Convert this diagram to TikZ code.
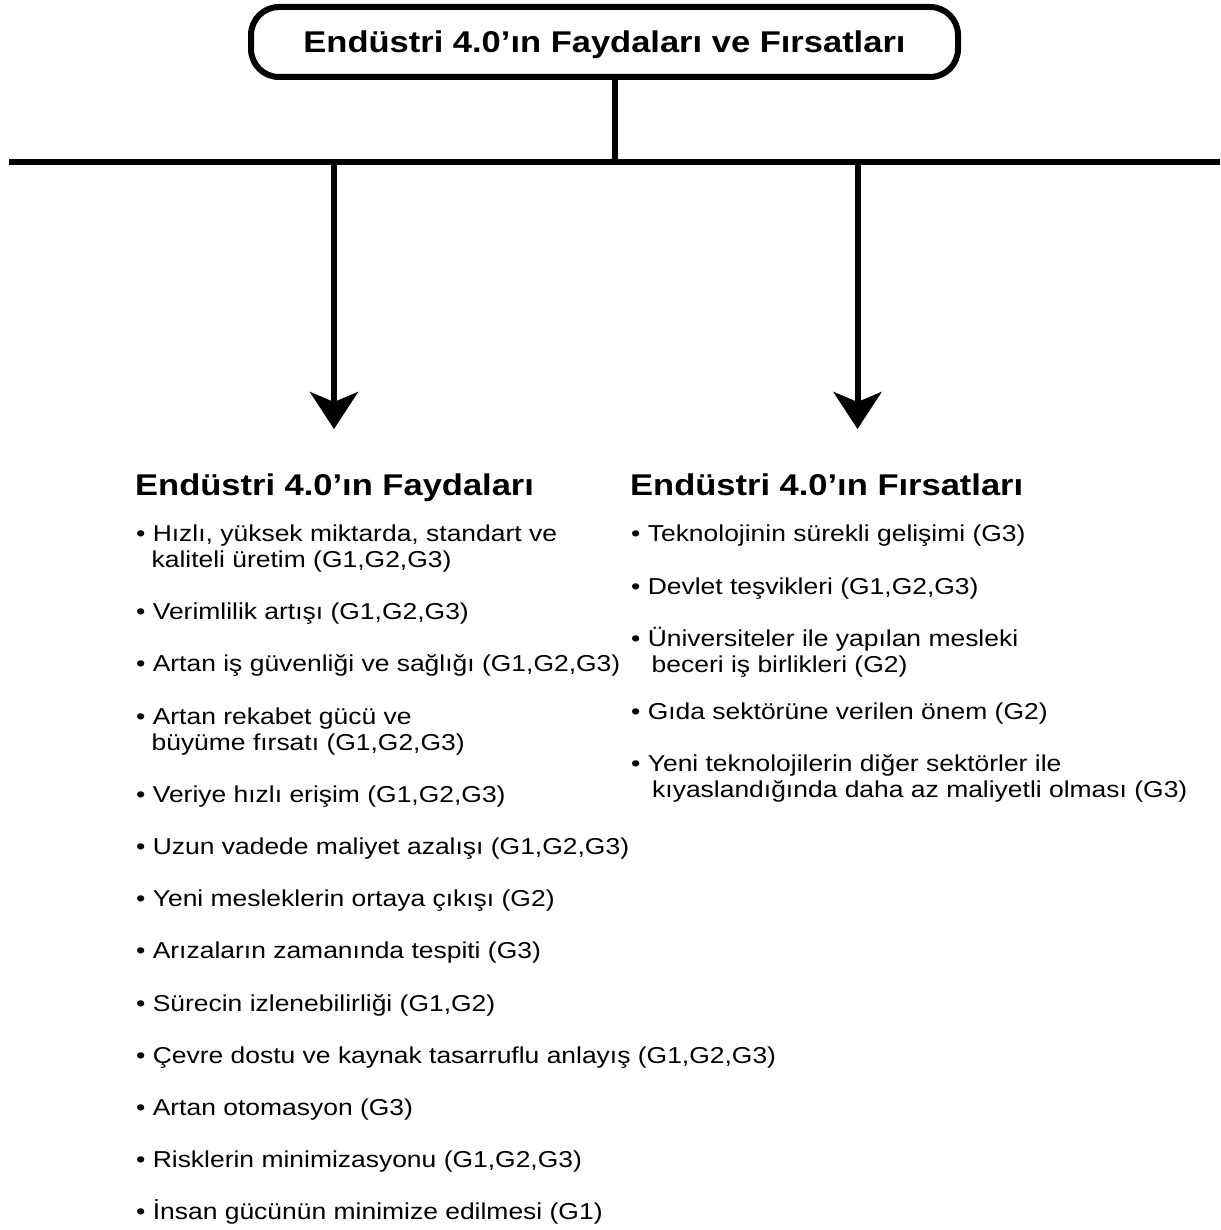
\documentclass[tikz,border=0pt]{standalone}
\usepackage{fontspec}
\setmainfont{Liberation Sans}[FakeStretch=1.15]
\usetikzlibrary{arrows.meta}

% type sizes for the list entries and the headings
\newcommand\itemfont{\fontsize{23}{26}\selectfont}
\newcommand\headfont{\fontsize{30}{34}\selectfont\bfseries}
% stack lines so that the first baseline is the node's base
\newcommand\lines[1]{\begin{tabular}[t]{@{}l@{}}#1\end{tabular}}

\begin{document}
\begin{tikzpicture}[x=1pt,y=-1pt,
  titlebox/.style={draw, line width=6pt, rounded corners=28pt,
    minimum width=707pt, minimum height=70pt, inner sep=0pt,
    font=\headfont, text height=21.5pt, text depth=0pt},
  link/.style={line width=5.5pt},
  bar/.style={line width=6pt},
  down/.style={line width=6pt,
    -{Stealth[length=37pt, width=48pt, inset=10pt]}},
  heading/.style={anchor=base west, inner sep=0pt, font=\headfont},
  entry/.style={anchor=base west, inner sep=0pt, font=\itemfont},
]
\useasboundingbox (0,0) rectangle (1220,1230);

% title and branching
\node[titlebox] (title) at (604.5,42) {Endüstri 4.0’ın Faydaları ve Fırsatları};

\coordinate (barL) at (9,162.5);
\coordinate (barR) at (1220,162.5);
\coordinate (join) at (615,162.5);
\coordinate (forkL) at (334,162.5);
\coordinate (forkR) at (857.5,162.5);
\coordinate (tipL) at (334,429);
\coordinate (tipR) at (857.5,429);

\draw[bar] (barL) -- (barR);
\draw[link] (title.south -| join) -- (join);
\draw[down] (forkL) -- (tipL);
\draw[down] (forkR) -- (tipR);

% column headings
\node[heading] (hF) at (135,495) {Endüstri 4.0’ın Faydaları};
\node[heading] (hO) at (630,495) {Endüstri 4.0’ın Fırsatları};

% benefits
\node[entry] (f1) at (136,541.7) {\lines{•\ Hızlı, yüksek miktarda, standart ve\\\hspace{15.4pt}kaliteli üretim (G1,G2,G3)}};
\node[entry] (f2) at (136,619.3) {•\ Verimlilik artışı (G1,G2,G3)};
\node[entry] (f3) at (136,671.7) {•\ Artan iş güvenliği ve sağlığı (G1,G2,G3)};
\node[entry] (f4) at (136,724.3) {\lines{•\ Artan rekabet gücü ve\\\hspace{15.4pt}büyüme fırsatı (G1,G2,G3)}};
\node[entry] (f5) at (136,802.3) {•\ Veriye hızlı erişim (G1,G2,G3)};
\node[entry] (f6) at (136,854.5) {•\ Uzun vadede maliyet azalışı (G1,G2,G3)};
\node[entry] (f7) at (136,906.7) {•\ Yeni mesleklerin ortaya çıkışı (G2)};
\node[entry] (f8) at (136,958.9) {•\ Arızaların zamanında tespiti (G3)};
\node[entry] (f9) at (136,1011.1) {•\ Sürecin izlenebilirliği (G1,G2)};
\node[entry] (f10) at (136,1063.3) {•\ Çevre dostu ve kaynak tasarruflu anlayış (G1,G2,G3)};
\node[entry] (f11) at (136,1115.5) {•\ Artan otomasyon (G3)};
\node[entry] (f12) at (136,1167.7) {•\ Risklerin minimizasyonu (G1,G2,G3)};
\node[entry] (f13) at (136,1219.9) {•\ İnsan gücünün minimize edilmesi (G1)};

% opportunities
\node[entry] (o1) at (631,541.7) {•\ Teknolojinin sürekli gelişimi (G3)};
\node[entry] (o2) at (631,594) {•\ Devlet teşvikleri (G1,G2,G3)};
\node[entry] (o3) at (631,646) {\lines{•\ Üniversiteler ile yapılan mesleki\\\hspace{20.5pt}beceri iş birlikleri (G2)}};
\node[entry] (o4) at (631,719) {•\ Gıda sektörüne verilen önem (G2)};
\node[entry] (o5) at (631,771.7) {\lines{•\ Yeni teknolojilerin diğer sektörler ile\\\hspace{21pt}kıyaslandığında daha az maliyetli olması (G3)}};
\end{tikzpicture}
\end{document}
